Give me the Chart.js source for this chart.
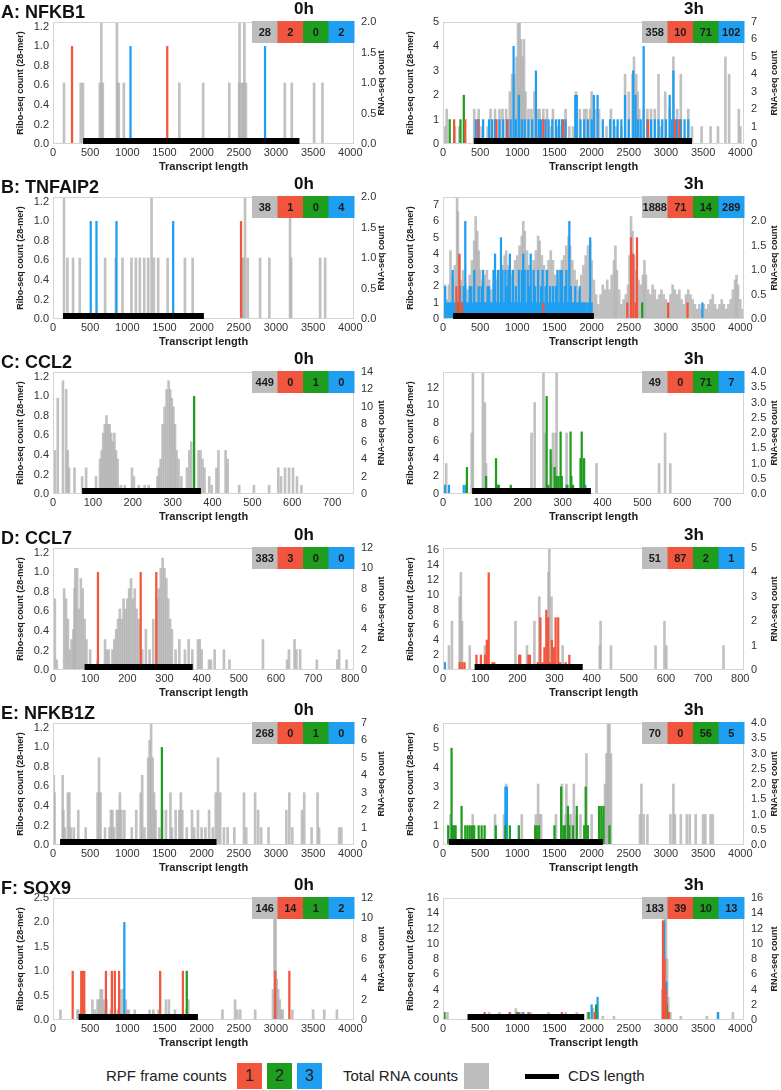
<!DOCTYPE html>
<html lang="en">
<head>
<meta charset="UTF-8">
<title>Ribo-seq frame counts</title>
<script src="https://cdn.jsdelivr.net/npm/chart.js"></script>
<style>
  body { margin: 0; background: #fff; font-family: "Liberation Sans", Arial, sans-serif; }
  #fig { position: relative; width: 781px; height: 1090px; overflow: hidden; }
  #fig canvas { position: absolute; }
  .lg { position: absolute; top: 1063px; height: 26px; line-height: 26px; font-size: 15px; color: #222; white-space: nowrap; }
  .sw { position: absolute; top: 1063px; width: 25px; height: 26px; line-height: 26px; text-align: center; font-size: 16px; color: #222; }
</style>
</head>
<body>
<div id="fig">
  <div class="lg" style="left:106px">RPF frame counts</div>
  <div class="sw" style="left:237px;background:#f2553d">1</div>
  <div class="sw" style="left:267px;background:#1f9d1f">2</div>
  <div class="sw" style="left:297px;background:#1e9ff1">3</div>
  <div class="lg" style="left:343px">Total RNA counts</div>
  <div class="sw" style="left:464px;background:#bdbdbd"></div>
  <div style="position:absolute;left:525px;top:1074px;width:34px;height:5px;background:#000"></div>
  <div class="lg" style="left:568px">CDS length</div>
</div>

<script>
// [position, count]; rna = RNA-seq (right axis), f1/f2/f3 = RPF frames (left axis)

// A: NFKB1
const a0_rna = [[148,1],[373,1],[403,1],[630,1],[650,2],[670,1],[860,2],[870,1],[885,1],[953,1],[1700,1],[2020,1],[2372,1],[2505,1],[2510,2],[2540,1],[2560,1],[2575,2],[2596,1],[3119,1],[3213,1],[3513,1],[3625,1]];
const a0_f1 = [[256,1],[1537,1]];
const a0_f2 = [];
const a0_f3 = [[1043,1],[2853,1]];
const a0_cds = [405, 3316];
const a0_counts = [28, 2, 0, 2];

const a3_rna = [[30,1],[50,2],[160,1],[220,1],[420,2],[480,2],[520,1],[600,1],[640,2],[700,2],[760,2],[800,2],[850,2],[900,3],[930,4],[960,4],[990,5],[1010,7],[1030,7],[1050,6],[1070,5],[1090,6],[1110,3],[1150,2],[1190,2],[1230,3],[1280,2],[1300,2],[1350,2],[1400,2],[1450,1],[1480,2],[1530,1],[1560,1],[1600,1],[1650,2],[1700,1],[1750,1],[1790,3],[1840,2],[1900,2],[1930,2],[1980,2],[2000,3],[2050,2],[2100,2],[2200,1],[2260,2],[2330,1],[2400,1],[2450,4],[2500,3],[2550,4],[2570,5],[2600,4],[2620,3],[2640,2],[2700,2],[2750,2],[2800,2],[2850,2],[2900,4],[2930,1],[2990,3],[3050,2],[3100,5],[3150,2],[3200,4],[3300,2],[3350,1],[3480,1],[3600,1],[3700,1],[3800,5],[3850,4],[3980,2],[4000,1]];
const a3_f1 = [[150,1],[300,1],[470,1],[720,1],[870,1],[1350,1],[1620,1],[2760,1],[3120,1],[3180,1]];
const a3_f2 = [[90,1],[235,1],[280,2]];
const a3_f3 = [[440,1],[480,1],[540,1],[620,1],[660,1],[700,1],[760,1],[810,1],[860,1],[910,1],[950,4],[980,1],[1020,2],[1060,1],[1100,1],[1150,1],[1200,1],[1250,3],[1290,1],[1320,1],[1380,1],[1420,1],[1470,1],[1520,1],[1560,1],[1600,1],[1650,1],[1780,2],[1800,2],[1850,1],[1900,1],[1950,1],[2000,1],[2030,2],[2080,2],[2150,1],[2250,1],[2300,1],[2350,1],[2400,1],[2450,2],[2500,1],[2560,3],[2590,2],[2620,1],[2660,1],[2700,4],[2750,1],[2800,1],[2850,1],[2900,1],[2950,1],[3000,1],[3050,2],[3080,1],[3100,3],[3150,1],[3200,1],[3250,1],[3300,1]];
const a3_cds = [415, 3350];
const a3_counts = [358, 10, 71, 102];

// B: TNFAIP2
const b0_rna = [[148,2],[194,1],[270,1],[360,1],[701,1],[845,1],[935,1],[1056,1],[1115,1],[1168,1],[1227,1],[1281,1],[1326,2],[1357,1],[1415,1],[1542,1],[1775,1],[1879,1],[2545,1],[2561,1],[2584,2],[2620,1],[2786,1],[2911,1],[3190,2],[3204,1],[3594,1],[3662,1]];
const b0_f1 = [[2530,1]];
const b0_f2 = [];
const b0_f3 = [[508,1],[585,1],[854,1],[1617,1]];
const b0_cds = [135, 2030];
const b0_counts = [38, 1, 0, 4];

const b3_rna = [[20,0.7],[50,0.4],[80,0.7],[100,1.4],[130,0.9],[160,1.1],[190,2.5],[200,2.2],[220,1.3],[240,0.8],[270,1.0],[300,0.7],[330,0.6],[360,0.9],[390,1.2],[420,1.6],[440,2.1],[460,1.8],[480,1.4],[500,1.0],[530,0.8],[560,0.9],[590,1.0],[620,0.8],[650,0.6],[680,0.7],[710,0.8],[740,0.9],[770,1.0],[800,1.1],[830,1.3],[850,1.4],[880,1.1],[910,0.9],[940,1.0],[970,1.2],[1000,1.3],[1030,1.5],[1060,1.7],[1080,2.0],[1100,1.8],[1130,1.4],[1160,1.1],[1190,1.0],[1220,1.2],[1250,1.4],[1280,1.7],[1300,1.6],[1330,1.3],[1360,1.1],[1390,1.0],[1420,1.2],[1450,1.4],[1480,1.2],[1510,0.9],[1540,0.8],[1570,1.0],[1600,1.2],[1630,1.3],[1660,1.5],[1690,1.7],[1710,1.5],[1740,1.2],[1770,1.0],[1800,0.8],[1830,0.6],[1860,0.9],[1890,1.1],[1920,1.3],[1950,1.5],[1980,1.6],[2000,1.2],[2030,0.8],[2060,0.5],[2090,0.3],[2120,0.5],[2150,0.7],[2180,0.6],[2210,0.8],[2240,0.6],[2270,0.9],[2300,1.2],[2320,1.5],[2340,1.0],[2370,0.6],[2400,0.3],[2430,0.4],[2460,0.5],[2490,0.7],[2510,1.3],[2530,2.1],[2550,1.8],[2570,1.3],[2600,1.0],[2630,0.8],[2660,0.7],[2690,0.9],[2710,1.2],[2730,0.9],[2760,0.6],[2790,0.5],[2820,0.7],[2850,0.6],[2880,0.4],[2910,0.5],[2940,0.6],[2970,0.5],[3000,0.4],[3030,0.3],[3060,0.5],[3090,0.7],[3120,0.6],[3150,0.5],[3180,0.6],[3210,0.4],[3240,0.3],[3270,0.5],[3300,0.6],[3330,0.5],[3360,0.4],[3390,0.3],[3420,0.2],[3450,0.3],[3480,0.2],[3510,0.3],[3540,0.2],[3570,0.3],[3600,0.4],[3630,0.5],[3660,0.3],[3690,0.2],[3720,0.3],[3750,0.4],[3780,0.3],[3810,0.2],[3840,0.3],[3870,0.4],[3900,0.6],[3930,0.8],[3950,0.9],[3970,0.7],[4000,0.4],[4030,0.2]];
const b3_f1 = [[180,2],[220,4],[260,1],[1350,1],[2480,1],[2530,5],[2560,4],[2590,1],[2610,5],[3030,1],[3290,1]];
const b3_f2 = [[200,1],[2680,1]];
const b3_f3 = [[10,2],[30,2],[50,1],[70,1],[90,1],[110,1],[130,3],[150,1],[170,1],[190,1],[230,2],[250,1],[280,2],[300,6],[320,1],[340,1],[360,2],[380,2],[400,1],[420,3],[440,1],[460,1],[480,2],[500,1],[520,2],[540,3],[560,1],[580,1],[600,2],[620,2],[640,1],[660,1],[680,3],[700,4],[720,1],[740,3],[760,1],[780,5],[800,3],[820,1],[840,3],[860,2],[880,3],[900,4],[920,1],[940,3],[960,1],[980,2],[1000,1],[1020,3],[1040,1],[1060,3],[1080,4],[1100,3],[1120,1],[1140,3],[1160,2],[1180,4],[1200,1],[1220,3],[1240,2],[1260,1],[1280,3],[1300,1],[1320,2],[1340,3],[1360,1],[1380,2],[1400,3],[1420,1],[1440,2],[1460,1],[1480,2],[1500,1],[1520,2],[1540,3],[1560,1],[1580,3],[1600,3],[1620,1],[1640,2],[1660,3],[1680,1],[1700,6],[1720,2],[1740,1],[1760,1],[1780,2],[1800,1],[1820,1],[1840,2],[1860,1],[1880,1],[1900,1],[1920,1],[1950,1],[1980,5],[2000,1],[3490,1]];
const b3_cds = [135, 2030];
const b3_counts = [1888, 71, 14, 289];

// C: CCL2
const c0_rna = [[5,5],[12,11],[25,13],[33,12],[37,5],[40,3],[54,3],[73,2],[83,3],[108,2],[118,4],[122,5],[126,7],[130,8],[134,9],[138,8],[142,8],[146,7],[150,6],[154,7],[158,5],[162,4],[170,1],[180,1],[198,3],[203,2],[215,1],[230,1],[240,1],[262,2],[266,3],[270,4],[275,8],[280,10],[285,12],[290,13],[294,12],[298,11],[302,10],[306,8],[310,5],[315,4],[322,2],[336,3],[342,5],[347,6],[365,5],[370,5],[375,4],[380,3],[392,2],[398,1],[410,3],[415,5],[433,5],[438,4],[467,1],[504,1],[542,1],[565,3],[572,2],[582,3],[592,3],[602,3],[612,2],[623,1]];
const c0_f1 = [];
const c0_f2 = [[354,1]];
const c0_f3 = [];
const c0_cds = [73, 371];
const c0_counts = [449, 0, 1, 0];

const c3_rna = [[8,1],[72,2],[75,4],[100,4],[105,3],[108,1],[222,2],[230,3],[252,4],[255,2],[272,1],[276,2],[283,2],[285,4],[310,2],[385,1],[542,1],[557,2],[570,1]];
const c3_f1 = [];
const c3_f2 = [[60,3],[108,2],[133,4],[137,1],[140,1],[170,1],[260,11],[264,1],[270,5],[280,3],[285,2],[290,2],[295,7],[298,2],[312,1],[320,7],[322,2],[326,1],[345,4],[348,7],[354,4]];
const c3_f3 = [[5,1],[15,1],[52,1],[58,1],[310,1],[357,1]];
const c3_cds = [73, 371];
const c3_counts = [49, 0, 71, 7];

// D: CCL7
const d0_rna = [[5,7],[10,1],[30,8],[35,7],[40,5],[45,2],[50,3],[55,4],[58,8],[60,10],[65,10],[70,6],[75,9],[80,8],[85,5],[90,3],[100,2],[120,1],[140,3],[145,2],[150,2],[160,2],[165,3],[170,4],[175,5],[180,6],[185,5],[190,7],[195,6],[200,7],[205,8],[210,9],[215,7],[220,8],[225,6],[230,5],[240,2],[250,4],[260,2],[270,5],[280,7],[285,8],[290,10],[295,11],[300,10],[305,9],[310,7],[315,5],[320,4],[330,2],[340,3],[355,2],[365,3],[375,2],[390,3],[395,3],[400,2],[420,1],[425,1],[435,2],[460,2],[475,1],[565,3],[630,1],[635,2],[650,3],[655,2],[665,2],[710,1],[765,1],[770,2],[790,1]];
const d0_f1 = [[121,1],[236,1],[278,1]];
const d0_f2 = [];
const d0_f3 = [];
const d0_cds = [85, 376];
const d0_counts = [383, 3, 0, 0];

const d3_rna = [[16,1],[24,2],[45,3],[48,4],[51,2],[72,1],[113,1],[195,2],[226,1],[246,2],[259,3],[284,4],[286,5],[292,3],[322,1],[422,1],[424,2],[452,1],[572,1],[596,2],[601,1],[755,1]];
const d3_f1 = [[45,1],[52,1],[58,1],[90,2],[102,2],[113,2],[118,4],[123,13],[133,1],[138,1],[205,2],[208,2],[230,2],[234,2],[255,1],[262,7],[268,1],[273,3],[278,8],[283,7],[288,1],[293,4],[298,3],[303,7],[310,7],[315,1],[330,1],[340,2]];
const d3_f2 = [[296,1],[300,1]];
const d3_f3 = [[5,1]];
const d3_cds = [85, 376];
const d3_counts = [51, 87, 2, 1];

// E: NFKB1Z
const e0_rna = [[5,3],[10,4],[20,3],[130,4],[140,2],[160,1],[200,3],[220,3],[240,1],[280,1],[340,2],[440,1],[600,3],[620,5],[640,3],[700,1],[760,1],[780,2],[800,2],[820,1],[860,2],[880,2],[900,3],[920,2],[960,2],[1060,1],[1120,2],[1180,3],[1200,4],[1230,1],[1280,5],[1300,6],[1320,7],[1340,5],[1360,3],[1380,2],[1430,1],[1470,2],[1520,2],[1580,3],[1600,1],[1650,2],[1700,2],[1720,3],[1740,2],[1800,1],[1870,2],[1900,1],[1950,2],[2000,1],[2050,1],[2100,2],[2150,1],[2190,3],[2220,5],[2250,3],[2300,1],[2350,1],[2440,1],[2570,3],[2600,1],[2720,3],[2760,2],[2800,1],[2900,1],[3140,2],[3180,3],[3220,1],[3350,2],[3380,3],[3480,1],[3560,3],[3580,1],[3850,1],[3880,1]];
const e0_f1 = [];
const e0_f2 = [[1465,1]];
const e0_f3 = [];
const e0_cds = [95, 2200];
const e0_counts = [268, 0, 1, 0];

const e3_rna = [[100,1],[400,1],[700,1],[820,1],[850,2],[1060,1],[1250,1],[1280,2],[1300,1],[1320,1],[1520,1],[1600,2],[1650,1],[1660,2],[1700,1],[1720,1],[1760,2],[1800,1],[1850,1],[1930,3],[2000,1],[2150,1],[2180,2],[2200,3],[2220,4],[2240,4],[2260,3],[2650,1],[2670,2],[2700,1],[2750,1],[3060,1],[3100,2],[3120,1],[3200,1],[3280,1],[3320,1],[3400,1],[3500,1],[3530,1],[3600,1],[3630,1]];
const e3_f1 = [];
const e3_f2 = [[70,1],[115,5],[125,1],[150,1],[170,1],[250,2],[300,1],[330,1],[360,1],[390,1],[420,1],[480,1],[520,1],[560,1],[710,1],[840,1],[900,1],[1020,1],[1240,1],[1260,1],[1290,1],[1500,1],[1590,3],[1620,1],[1640,1],[1680,2],[1700,1],[1750,1],[1800,2],[1900,1],[1920,3],[1950,1],[2100,2],[2130,2],[2160,2],[2240,1]];
const e3_f3 = [[840,3],[860,3],[1940,1]];
const e3_cds = [80, 2150];
const e3_counts = [70, 0, 56, 5];

// F: SOX9
const f0_rna = [[100,1],[330,1],[340,1],[380,1],[420,1],[530,2],[560,1],[600,2],[620,2],[640,3],[660,3],[680,2],[700,1],[720,2],[780,1],[870,1],[920,3],[950,3],[980,2],[1000,1],[1020,1],[1100,1],[1300,1],[1350,1],[1420,1],[1520,2],[1560,2],[1640,1],[1800,1],[1820,2],[2280,1],[2450,2],[2480,1],[2520,1],[2720,1],[2960,3],[2980,10],[2995,12],[3010,4],[3030,3],[3050,2],[3070,1],[3090,1],[3220,1],[3500,1],[3650,1],[3820,1]];
const f0_f1 = [[265,1],[380,1],[400,1],[420,1],[712,1],[792,1],[832,1],[889,1],[1442,1],[1748,1],[2990,1],[3180,1]];
const f0_f2 = [[1800,1]];
const f0_f3 = [[960,2]];
const f0_cds = [345, 1950];
const f0_counts = [146, 14, 1, 2];

const f3_rna = [[60,1],[480,0.5],[560,0.5],[620,1],[700,0.5],[760,1],[820,0.5],[900,1],[980,1.5],[1050,1],[1100,0.5],[1180,1],[1260,0.5],[1350,0.5],[1420,1],[1500,0.5],[1580,0.5],[1650,1],[1720,0.5],[1800,1],[1880,0.5],[1950,1],[2020,1.5],[2080,1],[2150,0.5],[2300,0.5],[2950,4],[2970,13],[2985,16],[3000,14],[3015,8],[3030,3],[3060,1],[3200,0.5],[3550,0.5],[3700,1],[3900,1]];
const f3_f1 = [[560,1],[900,1],[1020,1],[1150,1],[1600,1],[2040,1],[2960,13],[2980,8],[3000,4],[3040,1]];
const f3_f2 = [[20,1],[1000,1],[1960,1],[2060,2],[2990,3],[3010,2]];
const f3_f3 = [[1080,1],[2000,2],[2080,3],[2975,13],[3005,5],[3700,1]];
const f3_cds = [330, 1900];
const f3_counts = [183, 39, 10, 13];

const FONT = '"Liberation Sans", Arial, sans-serif';
const RED = '#f2553d', GREEN = '#1f9d1f', BLUE = '#1e9ff1', GREY_BOX = '#bdbdbd';
const GREY_BAR = 'rgba(178,178,178,0.8)';

// axis: [max, step, decimals, last labelled tick]
const panels = [
  {label: 'A: NFKB1', time: '0h', rna: a0_rna, f1: a0_f1, f2: a0_f2, f3: a0_f3, cds: a0_cds, counts: a0_counts, x: [4050, 500, 0, 4000], y: [1.25, 0.2, 1, 1.2], y2: [2, 0.5, 1, 2]},
  {time: '3h', rna: a3_rna, f1: a3_f1, f2: a3_f2, f3: a3_f3, cds: a3_cds, counts: a3_counts, x: [4050, 500, 0, 4000], y: [5, 1, 0, 5], y2: [7, 1, 0, 7]},
  {label: 'B: TNFAIP2', time: '0h', rna: b0_rna, f1: b0_f1, f2: b0_f2, f3: b0_f3, cds: b0_cds, counts: b0_counts, x: [4050, 500, 0, 4000], y: [1.25, 0.2, 1, 1.2], y2: [2, 0.5, 1, 2]},
  {time: '3h', rna: b3_rna, f1: b3_f1, f2: b3_f2, f3: b3_f3, cds: b3_cds, counts: b3_counts, x: [4050, 500, 0, 4000], y: [7.5, 1, 0, 7], y2: [2.5, 0.5, 1, 2]},
  {label: 'C: CCL2', time: '0h', rna: c0_rna, f1: c0_f1, f2: c0_f2, f3: c0_f3, cds: c0_cds, counts: c0_counts, x: [755, 100, 0, 700], y: [1.25, 0.2, 1, 1.2], y2: [14, 2, 0, 14]},
  {time: '3h', rna: c3_rna, f1: c3_f1, f2: c3_f2, f3: c3_f3, cds: c3_cds, counts: c3_counts, x: [755, 100, 0, 700], y: [13.75, 2, 0, 12], y2: [4, 0.5, 1, 4]},
  {label: 'D: CCL7', time: '0h', rna: d0_rna, f1: d0_f1, f2: d0_f2, f3: d0_f3, cds: d0_cds, counts: d0_counts, x: [810, 100, 0, 800], y: [1.25, 0.2, 1, 1.2], y2: [12, 2, 0, 12]},
  {time: '3h', rna: d3_rna, f1: d3_f1, f2: d3_f2, f3: d3_f3, cds: d3_cds, counts: d3_counts, x: [810, 100, 0, 800], y: [16.3, 2, 0, 16], y2: [5, 1, 0, 5]},
  {label: 'E: NFKB1Z', time: '0h', rna: e0_rna, f1: e0_f1, f2: e0_f2, f3: e0_f3, cds: e0_cds, counts: e0_counts, x: [4050, 500, 0, 4000], y: [1.25, 0.2, 1, 1.2], y2: [7, 1, 0, 7]},
  {time: '3h', rna: e3_rna, f1: e3_f1, f2: e3_f2, f3: e3_f3, cds: e3_cds, counts: e3_counts, x: [4050, 500, 0, 4000], y: [6.3, 1, 0, 6], y2: [4, 0.5, 1, 4]},
  {label: 'F: SOX9', time: '0h', rna: f0_rna, f1: f0_f1, f2: f0_f2, f3: f0_f3, cds: f0_cds, counts: f0_counts, x: [4050, 500, 0, 4000], y: [2.5, 0.5, 1, 2.5], y2: [12, 2, 0, 12]},
  {time: '3h', rna: f3_rna, f1: f3_f1, f2: f3_f2, f3: f3_f3, cds: f3_cds, counts: f3_counts, x: [4050, 500, 0, 4000], y: [16, 2, 0, 16], y2: [16, 2, 0, 16]}
];

const rowTops = [0, 175, 350, 526, 701, 876];

const panelDecor = {
  id: 'panelDecor',
  afterDatasetsDraw(chart, args, o) {
    const {ctx, chartArea: a, scales} = chart;
    ctx.save();
    ctx.strokeStyle = '#d4d4d4';
    ctx.lineWidth = 1;
    ctx.strokeRect(a.left + 0.5, a.top + 0.5, a.right - a.left - 1, a.bottom - a.top - 1);

    // CDS bar
    const x0 = scales.x.getPixelForValue(o.cds[0]);
    const x1 = scales.x.getPixelForValue(o.cds[1]);
    ctx.fillStyle = '#000';
    ctx.fillRect(x0, a.bottom - 6, x1 - x0, 6);

    // count boxes
    const cw = 25.5, ch = 22;
    const bx = a.right - 4 * cw, by = a.top - 1;
    const cols = [GREY_BOX, RED, GREEN, BLUE];
    ctx.textAlign = 'center';
    ctx.textBaseline = 'middle';
    o.counts.forEach((c, i) => {
      ctx.fillStyle = cols[i];
      ctx.fillRect(bx + i * cw, by, cw + 0.5, ch);
      let fs = 11;
      ctx.font = 'bold ' + fs + 'px ' + FONT;
      while (ctx.measureText(String(c)).width > cw - 1 && fs > 8) {
        fs -= 0.5;
        ctx.font = 'bold ' + fs + 'px ' + FONT;
      }
      ctx.fillStyle = '#1a1a1a';
      ctx.fillText(String(c), bx + i * cw + cw / 2, by + ch / 2 + 1);
    });
    ctx.restore();
  },
  afterDraw(chart, args, o) {
    const {ctx, chartArea: a} = chart;
    const midY = (a.top + a.bottom) / 2;
    ctx.save();
    ctx.fillStyle = '#111';
    if (o.label) {
      ctx.font = 'bold 18px ' + FONT;
      ctx.textAlign = 'left';
      ctx.textBaseline = 'alphabetic';
      ctx.fillText(o.label, 1, 18);
    }
    ctx.font = 'bold 17px ' + FONT;
    ctx.textAlign = 'center';
    ctx.textBaseline = 'alphabetic';
    ctx.fillText(o.time, 304, 14);

    ctx.fillStyle = '#222';
    ctx.font = 'bold 11px ' + FONT;
    ctx.textBaseline = 'middle';
    ctx.fillText('Transcript length', (a.left + a.right) / 2, 167);

    ctx.font = 'bold 9px ' + FONT;
    ctx.save();
    ctx.translate(21, midY);
    ctx.rotate(-Math.PI / 2);
    ctx.fillText('Ribo-seq count (28-mer)', 0, 0);
    ctx.restore();
    ctx.save();
    ctx.translate(o.rx, midY);
    ctx.rotate(-Math.PI / 2);
    ctx.fillText('RNA-seq count', 0, 0);
    ctx.restore();
    ctx.restore();
  }
};

const tickFont = {family: FONT, size: 11};

function tickValues(step, last) {
  const out = [];
  const n = Math.round(last / step);
  for (let k = 0; k <= n; k++) out.push(+(k * step).toFixed(6));
  return out;
}

function axis(pos, ax, size) {
  const [max, step, dec, last] = ax;
  const horiz = pos === 'bottom';
  return {
    type: 'linear', position: pos, min: 0, max: max, offset: false,
    grid: {display: false, drawTicks: false}, border: {display: false},
    ticks: {
      autoSkip: false, maxRotation: 0,
      padding: horiz ? 2 : (pos === 'left' ? 4 : 7),
      color: '#333', font: tickFont,
      callback: v => Number(v).toFixed(dec)
    },
    afterBuildTicks: s => { s.ticks = tickValues(step, last).map(v => ({value: v})); },
    afterFit: s => { if (horiz) s.height = size; else s.width = size; }
  };
}

function bars(data, color, axisId, order, thick) {
  return {
    data: data.map(([x, y]) => ({x, y})),
    backgroundColor: color, yAxisID: axisId, order: order,
    barThickness: thick, grouped: false, borderWidth: 0
  };
}

const fig = document.getElementById('fig');
panels.forEach((p, i) => {
  const col = i % 2, row = Math.floor(i / 2);
  const W = col === 0 ? 390 : 391, H = 175;
  const cv = document.createElement('canvas');
  cv.width = W; cv.height = H;
  cv.style.left = (col * 390) + 'px';
  cv.style.top = rowTops[row] + 'px';
  cv.style.width = W + 'px'; cv.style.height = H + 'px';
  fig.appendChild(cv);

  new Chart(cv, {
    type: 'bar',
    data: {
      datasets: [
        bars(p.rna, GREY_BAR, 'y2', 2, 2),
        bars(p.f1, RED, 'y', 1, 1.6),
        bars(p.f2, GREEN, 'y', 1, 1.6),
        bars(p.f3, BLUE, 'y', 1, 1.6)
      ]
    },
    options: {
      responsive: false, animation: false, events: [],
      layout: {padding: {top: 22, left: 0, right: 0, bottom: 0}},
      scales: {
        x: axis('bottom', p.x, 31),
        y: axis('left', p.y, 53),
        y2: axis('right', p.y2, W - 354)
      },
      plugins: {
        legend: {display: false},
        tooltip: {enabled: false},
        panelDecor: {label: p.label, time: p.time, cds: p.cds, counts: p.counts, rx: col === 0 ? 382 : 385}
      }
    },
    plugins: [panelDecor]
  });
});
</script>
</body>
</html>
